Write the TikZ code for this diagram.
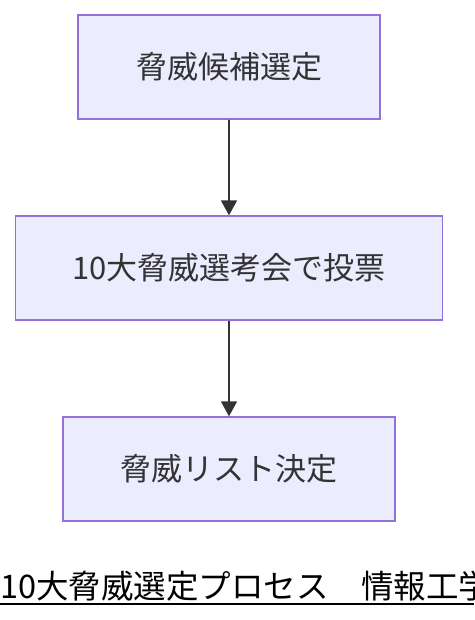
\documentclass[tikz,border=0pt]{standalone}
\usepackage{fontspec}
\setmainfont{Noto Sans CJK JP}
\usetikzlibrary{shapes,arrows.meta,positioning}
\definecolor{boxfill}{HTML}{ECECFF}
\definecolor{boxline}{HTML}{9370DB}
\definecolor{ink}{HTML}{333333}
\begin{document}
\begin{tikzpicture}[node distance=201pt, auto]
\useasboundingbox (0,0) rectangle (474pt,-620pt);

% Define styles
\tikzstyle{box} = [rectangle, draw=boxline, fill=boxfill, line width=1.3pt, text=ink, minimum height=104pt, font=\fontsize{31}{35}\selectfont]
\tikzstyle{arrow} = [line width=1.6pt, draw=ink, -{Triangle[length=15pt,width=16pt]}]

% Nodes
\node [box, minimum width=302pt] at (229pt,-67pt) (candidates) {脅威候補選定};
\node [box, minimum width=427pt, below of=candidates] (vote) {10大脅威選考会で投票};
\node [box, minimum width=332pt, below of=vote] (decided) {脅威リスト決定};

% Caption
\node [anchor=base west, inner sep=0pt, font=\fontsize{32.5}{36}\selectfont] at (0,-598pt) (caption) {10大脅威選定プロセス　情報工学};
\coordinate (ruleL) at (0,-604pt);
\coordinate (ruleR) at (474pt,-604pt);

% Arrows
\draw [arrow] (candidates) -- (vote);
\draw [arrow] (vote) -- (decided);
\draw [line width=2pt] (ruleL) -- (ruleR);

\end{tikzpicture}
\end{document}
